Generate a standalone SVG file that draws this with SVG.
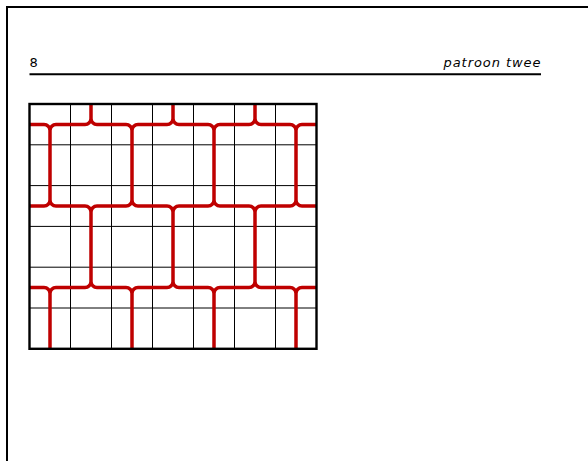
<svg xmlns="http://www.w3.org/2000/svg" xmlns:xlink="http://www.w3.org/1999/xlink" width="588" height="461" viewBox="0 0 588 461">
<style>
.page{fill:none;stroke:#000;stroke-width:2}
.rule{stroke:#000;stroke-width:2}
.hdr{font-family:"DejaVu Sans",sans-serif;font-size:13px;fill:#000}
.grid{stroke:#000;stroke-width:1;fill:none}
.frame{fill:none;stroke:#000;stroke-width:2.4}
.red{fill:none;stroke:#bf0000;stroke-width:3.5;stroke-linecap:butt}
</style>
<defs>
<path id="vlink" class="red" d="M-6,0 A6,6 0 0 1 0,6 M6,0 A6,6 0 0 0 0,6 V75.6 A6,6 0 0 1 -6,81.6 M0,75.6 A6,6 0 0 0 6,81.6"/>
<path id="tabTop" class="red" d="M0,-20.4 V-6 A6,6 0 0 1 -6,0 M0,-6 A6,6 0 0 0 6,0"/>
<path id="tabBot" class="red" d="M-6,0 A6,6 0 0 1 0,6 V61.2 M6,0 A6,6 0 0 0 0,6"/>
<path id="hrow" class="red" d="M29.5,0 H44 M56,0 H85 M97,0 H126 M138,0 H167 M179,0 H208 M220,0 H249 M261,0 H290 M302,0 H316.5"/>
</defs>
<g id="page">
<path class="page" d="M7,470 V7 H600"/>
</g>
<g id="header">
<text class="hdr" x="29.5" y="67">8</text>
<text class="hdr" x="540.5" y="67" text-anchor="end" font-style="italic" font-size="13.5" textLength="97" lengthAdjust="spacing">patroon twee</text>
<line class="rule" x1="29.5" y1="74.3" x2="541" y2="74.3"/>
</g>
<g id="grid">
<path class="grid" d="M70.5,104 V348.8 M111.5,104 V348.8 M152.5,104 V348.8 M193.5,104 V348.8 M234.5,104 V348.8 M275.5,104 V348.8 M29.5,144.8 H316.5 M29.5,185.6 H316.5 M29.5,226.4 H316.5 M29.5,267.2 H316.5 M29.5,308 H316.5"/>
</g>
<g id="pattern">
<use xlink:href="#hrow" transform="translate(0,124.4)"/>
<use xlink:href="#hrow" transform="translate(0,206)"/>
<use xlink:href="#hrow" transform="translate(0,287.6)"/>
<use xlink:href="#tabTop" transform="translate(91,124.4)"/>
<use xlink:href="#tabTop" transform="translate(173,124.4)"/>
<use xlink:href="#tabTop" transform="translate(255,124.4)"/>
<use xlink:href="#vlink" transform="translate(50,124.4)"/>
<use xlink:href="#vlink" transform="translate(132,124.4)"/>
<use xlink:href="#vlink" transform="translate(214,124.4)"/>
<use xlink:href="#vlink" transform="translate(296,124.4)"/>
<use xlink:href="#vlink" transform="translate(91,206)"/>
<use xlink:href="#vlink" transform="translate(173,206)"/>
<use xlink:href="#vlink" transform="translate(255,206)"/>
<use xlink:href="#tabBot" transform="translate(50,287.6)"/>
<use xlink:href="#tabBot" transform="translate(132,287.6)"/>
<use xlink:href="#tabBot" transform="translate(214,287.6)"/>
<use xlink:href="#tabBot" transform="translate(296,287.6)"/>
</g>
<g id="frame">
<rect class="frame" x="29.5" y="104" width="287" height="244.8"/>
</g>
</svg>
